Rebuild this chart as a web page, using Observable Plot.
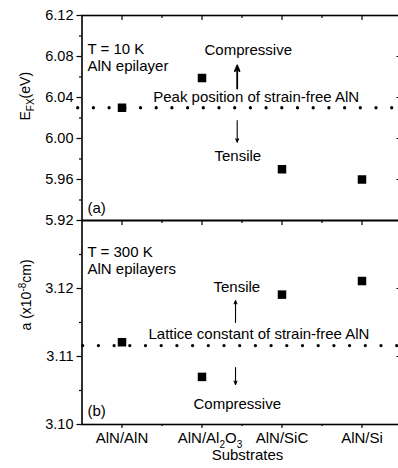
<!DOCTYPE html>
<html>
<head>
<meta charset="utf-8">
<script src="https://cdn.jsdelivr.net/npm/d3@7"></script>
<script src="https://cdn.jsdelivr.net/npm/@observablehq/plot@0.6"></script>
<style>
html, body { margin: 0; padding: 0; background: #fff; overflow: hidden; }
#wrap { position: relative; width: 398px; height: 468px; overflow: hidden; background: #fff; }
#wrap svg { position: absolute; left: 0; top: 0; }
</style>
</head>
<body>
<div id="wrap"></div>
<script>
// ---- data ----
const substrates = ["AlN/AlN", "AlN/Al2O3", "AlN/SiC", "AlN/Si"];
const excitonEnergy = [6.030, 6.059, 5.970, 5.960];      // E_FX (eV), T = 10 K
const latticeConstant = [3.1121, 3.1070, 3.1191, 3.1211]; // a (x10^-8 cm), T = 300 K
const strainFreeEnergy = 6.030;
const strainFreeLattice = 3.1116;
const energyTicks = [5.92, 5.96, 6.00, 6.04, 6.08, 6.12];
const energyMinorTicks = [5.94, 5.98, 6.02, 6.06, 6.10];
const latticeTicks = [3.10, 3.11, 3.12];
const latticeMinorTicks = [3.105, 3.115, 3.125];
const positions = substrates.map((_, i) => i + 1);
const minorPositions = [1.5, 2.5, 3.5];

const energyData = substrates.map((s, i) => ({x: i + 1, name: s, v: excitonEnergy[i]}));
const latticeData = substrates.map((s, i) => ({x: i + 1, name: s, v: latticeConstant[i]}));

// ---- layout ----
const W = 402, ML = 81.5, MR = 0.5;
const STYLE = "max-width:none;background:transparent;overflow:visible;font-family:'Liberation Sans',Arial,sans-serif;font-size:15px;color:#000;";
const dotted = {strokeDasharray: "0 15.7", strokeLinecap: "round", strokeWidth: 3.3, stroke: "black"};
const fmt = d3.format(".2f");

const topPlot = Plot.plot({
  width: W, height: 225,
  marginLeft: ML, marginRight: MR, marginTop: 15, marginBottom: 5,
  style: STYLE,
  x: {domain: [0.5, 4.5], axis: null},
  y: {domain: [5.92, 6.12]},
  marks: [
    Plot.axisY(energyTicks, {anchor: "left", tickSize: 5, tickPadding: 3.5, tickFormat: fmt, fontSize: 14.5, label: null, strokeWidth: 1.2}),
    Plot.axisY(energyMinorTicks, {anchor: "left", tickSize: 2.5, tickFormat: () => "", label: null, strokeWidth: 1.2}),
    Plot.tickY(energyTicks.slice(1, -1), {y: d => d, insetLeft: 315, strokeWidth: 1.2}),
    Plot.tickX(positions, {x: d => d, insetBottom: 200, strokeWidth: 1.2}),
    Plot.tickX(minorPositions, {x: d => d, insetBottom: 202, strokeWidth: 1.2}),
    Plot.ruleY([strainFreeEnergy], {x1: 0.4525, x2: 4.5, ...dotted}),
    Plot.dot(energyData, {x: "x", y: "v", symbol: "square", r: 4.8, fill: "black"}),
    Plot.text(["T = 10 K"], {x: 0.569, y: 6.0829, text: d => d, textAnchor: "start", lineAnchor: "bottom"}),
    Plot.text(["AlN epilayer"], {x: 0.569, y: 6.0663, text: d => d, textAnchor: "start", lineAnchor: "bottom"}),
    Plot.text(["(a)"], {x: 0.569, y: 5.9275, text: d => d, textAnchor: "start", lineAnchor: "bottom"}),
    Plot.text(["Compressive"], {x: 2.031, y: 6.0817, text: d => d, textAnchor: "start", lineAnchor: "bottom"}),
    Plot.text(["Peak position of strain-free AlN"], {x: 1.39, y: 6.0354, text: d => d, textAnchor: "start", lineAnchor: "bottom"}),
    Plot.text(["Tensile"], {x: 2.156, y: 5.9776, text: d => d, textAnchor: "start", lineAnchor: "bottom"}),
    Plot.arrow([0], {x1: 2.44, y1: 6.0488, x2: 2.44, y2: 6.0712, headLength: 5, headAngle: 45, strokeWidth: 1.8, stroke: "black"}),
    Plot.arrow([0], {x1: 2.44, y1: 6.0176, x2: 2.44, y2: 5.9964, headLength: 5, headAngle: 45, strokeWidth: 1.1, stroke: "black"}),
    Plot.text(["E FX (eV)"], {frameAnchor: "left", rotate: -90, dx: -56.5, dy: 2.5, fontSize: 14, text: d => d}),
    Plot.frame({stroke: "black", strokeWidth: 1.6})
  ]
});

const bottomPlot = Plot.plot({
  width: W, height: 468,
  marginLeft: ML, marginRight: MR, marginTop: 220, marginBottom: 44,
  style: STYLE,
  x: {domain: [0.5, 4.5]},
  y: {domain: [3.10, 3.13]},
  marks: [
    Plot.axisY(latticeTicks, {anchor: "left", tickSize: 5, tickPadding: 3.5, tickFormat: fmt, fontSize: 14.5, label: null, strokeWidth: 1.2}),
    Plot.axisY(latticeMinorTicks, {anchor: "left", tickSize: 2.5, tickFormat: () => "", label: null, strokeWidth: 1.2}),
    Plot.tickY(latticeTicks.slice(1), {y: d => d, insetLeft: 315, strokeWidth: 1.2}),
    Plot.tickX(positions, {x: d => d, insetBottom: 199, strokeWidth: 1.2}),
    Plot.tickX(minorPositions, {x: d => d, insetBottom: 201, strokeWidth: 1.2}),
    Plot.axisX(positions, {anchor: "bottom", tickSize: 4, tickPadding: 4, tickFormat: i => substrates[i - 1], label: null, fontSize: 15, strokeWidth: 1.2}),
    Plot.axisX(minorPositions, {anchor: "bottom", tickSize: 2, tickFormat: () => "", label: null, strokeWidth: 1.2}),
    Plot.ruleY([strainFreeLattice], {x1: 0.515, x2: 4.5, ...dotted}),
    Plot.dot(latticeData, {x: "x", y: "v", symbol: "square", r: 4.8, fill: "black"}),
    Plot.text(["T = 300 K"], {x: 0.569, y: 3.1247, text: d => d, textAnchor: "start", lineAnchor: "bottom"}),
    Plot.text(["AlN epilayers"], {x: 0.569, y: 3.1221, text: d => d, textAnchor: "start", lineAnchor: "bottom"}),
    Plot.text(["(b)"], {x: 0.569, y: 3.10132, text: d => d, textAnchor: "start", lineAnchor: "bottom"}),
    Plot.text(["Lattice constant of strain-free AlN"], {x: 1.331, y: 3.1126, text: d => d, textAnchor: "start", lineAnchor: "bottom"}),
    Plot.text(["Tensile"], {x: 2.144, y: 3.11946, text: d => d, textAnchor: "start", lineAnchor: "bottom"}),
    Plot.text(["Compressive"], {x: 1.894, y: 3.10235, text: d => d, textAnchor: "start", lineAnchor: "bottom"}),
    Plot.arrow([0], {x1: 2.419, y1: 3.1150, x2: 2.419, y2: 3.11824, headLength: 5, headAngle: 45, strokeWidth: 1.1, stroke: "black"}),
    Plot.arrow([0], {x1: 2.419, y1: 3.10838, x2: 2.419, y2: 3.10588, headLength: 5, headAngle: 45, strokeWidth: 1.1, stroke: "black"}),
    Plot.text(["a (x10-8cm)"], {frameAnchor: "left", rotate: -90, dx: -55, dy: 8, fontSize: 14, text: d => d}),
    Plot.text(["Substrates"], {frameAnchor: "bottom", dx: 5.5, dy: 35.5, lineAnchor: "bottom", fontSize: 15, text: d => d}),
    Plot.frame({stroke: "black", strokeWidth: 1.6})
  ]
});

const wrap = document.getElementById("wrap");
wrap.appendChild(topPlot);
wrap.appendChild(bottomPlot);

// rich text (sub/superscripts) as real SVG tspans
function richText(svg, match, parts, shift) {
  d3.select(svg).selectAll("text")
    .filter(function() { return this.textContent === match; })
    .each(function() {
      const t = d3.select(this);
      t.text(null);
      for (const p of parts) {
        const ts = t.append("tspan").text(p.t);
        if (p.dy) ts.attr("dy", p.dy);
        if (p.size) ts.attr("font-size", p.size);
      }
      if (shift) {
        const tr = this.getAttribute("transform") || "";
        this.setAttribute("transform", tr + ` translate(${shift},0)`);
      }
    });
}
richText(topPlot, "E FX (eV)", [{t: "E"}, {t: "FX", dy: 4.5, size: 10}, {t: "(eV)", dy: -4.5}]);
richText(bottomPlot, "a (x10-8cm)", [{t: "a (x10"}, {t: "-8", dy: -5.5, size: 10}, {t: "cm)", dy: 5.5}]);
richText(bottomPlot, "AlN/Al2O3", [{t: "AlN/Al"}, {t: "2", dy: 4.5, size: 10}, {t: "O", dy: -4.5}, {t: "3", dy: 4.5, size: 10}], 8);
</script>
</body>
</html>
